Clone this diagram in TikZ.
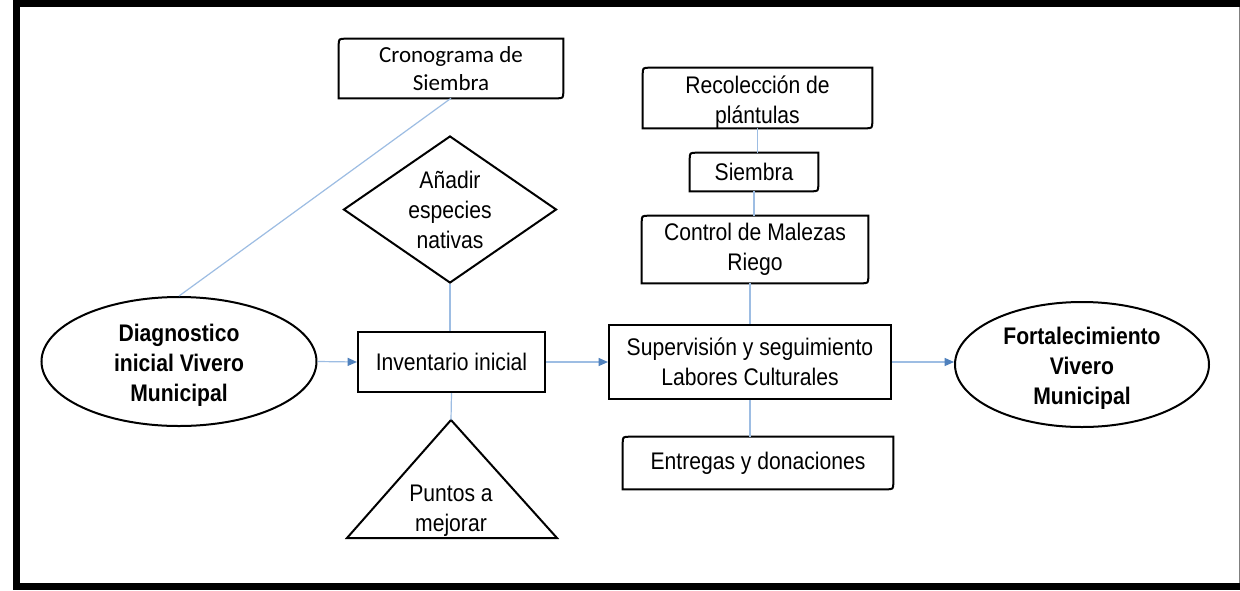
\documentclass[tikz,border=0pt]{standalone}
\usepackage{fontspec}
\newfontfamily\arialn[FakeStretch=0.88]{Liberation Sans}
\newfontfamily\calib{Carlito}
\usetikzlibrary{shapes.geometric,arrows.meta,calc}
\definecolor{lnblue}{HTML}{9DBDE3}
\definecolor{tipblue}{HTML}{4F81BD}
\tikzset{
  txt/.style={font=\arialn\fontsize{18}{22.5}\selectfont, align=center, inner sep=0pt},
  btxt/.style={font=\arialn\bfseries\fontsize{18}{22.5}\selectfont, align=center, inner sep=0pt},
  ctxt/.style={font=\calib\fontsize{17.25}{21}\selectfont, align=center, inner sep=0pt},
  outline/.style={draw=black, line width=1.5pt},
  sqbox/.style={rectangle, outline, line width=1.6pt},
  ell/.style={ellipse, outline, inner sep=0pt},
  conn/.style={draw=lnblue, line width=0.9pt},
  arr/.style={conn, -{Triangle[length=7pt,width=6pt,color=tipblue]}},
  frame/.style={fill=black, draw=none}
}
% box with rounded top-left and bottom-right corners (y axis points down)
\newcommand\rdbox[1]{%
  \draw[outline] (#1.south west) -- ($(#1.north west)+(0,7)$)
    .. controls (#1.north west) .. ($(#1.north west)+(7,0)$) -- (#1.north east)
    -- ($(#1.south east)+(0,-7)$)
    .. controls (#1.south east) .. ($(#1.south east)+(-7,0)$) -- cycle;}
\begin{document}
\begin{tikzpicture}[x=0.75pt, y=-0.75pt]
\useasboundingbox (0,0) rectangle (1240,590);
\fill[white] (0,0) rectangle (1240,590);
% frame
\fill[frame] (13,0) rectangle (1240,7);
\fill[frame] (13,0) rectangle (20,590);
\fill[frame] (13,583) rectangle (1240,590);
\draw[gray, line width=0.8pt] (1239.4,7) -- (1239.4,583);

% nodes
\node[ctxt, minimum width=168pt, minimum height=44.25pt] (cro) at (451,68.5) {Cronograma de\\Siembra};
\rdbox{cro}
\node[txt, diamond, outline, aspect=1.45, minimum width=159.75pt, minimum height=110.25pt] (dia) at (450,209.5) {A\~nadir\\especies\\nativas};
\node[ell, minimum width=206.25pt, minimum height=96.75pt] (diag) at (179,361.5) {};
\node[btxt] (diagT) at (179,365) {Diagnostico\\inicial Vivero\\Municipal};
\node[txt, sqbox, minimum width=140.25pt, minimum height=45pt] (inv) at (451.5,362) {Inventario inicial};
\coordinate (triTop) at (451,420);
\draw[outline] (triTop) -- (557,538) -- (347,538) -- cycle;
\node[txt] (tri) at (451,511) {Puntos a\\mejorar};
\node[txt, sqbox, minimum width=211.5pt, minimum height=55.5pt] (sup) at (750,362) {Supervisión y seguimiento\\Labores Culturales};
\node[txt, minimum width=202.5pt, minimum height=39pt] (ent) at (758,463) {Entregas y donaciones};
\rdbox{ent}
\node[minimum width=171.75pt, minimum height=45pt, inner sep=0pt] (rec) at (757.5,98) {};
\rdbox{rec}
\node[txt] (recT) at (757.5,102) {Recolección de\\plántulas};
\node[txt, minimum width=96pt, minimum height=28.5pt] (sie) at (754,172) {Siembra};
\rdbox{sie}
\node[txt, minimum width=169.5pt, minimum height=50.25pt] (ctl) at (755,249.5) {Control de Malezas\\Riego};
\rdbox{ctl}
\node[ell, minimum width=190.5pt, minimum height=93.75pt] (fort) at (1082,364.5) {};
\node[btxt] (fortT) at (1082,368) {Fortalecimiento\\Vivero\\Municipal};

% connectors
\draw[conn] (cro.south) -- (diag.north);
\draw[conn] (dia.south) -- (dia.south |- inv.north);
\draw[conn] (inv.south) -- (triTop);
\draw[arr] (diag.east) -- (inv.west);
\draw[arr] (inv.east) -- (sup.west);
\draw[arr] (sup.east) -- (sup.east -| fort.west);
\draw[conn] (rec.south) -- (rec.south |- sie.north);
\draw[conn] (sie.south) -- (sie.south |- ctl.north);
\draw[conn] ([xshift=-3.75pt]ctl.south) -- ([xshift=-3.75pt]ctl.south |- sup.north);
\draw[conn] (sup.south) -- (sup.south |- ent.north);
\end{tikzpicture}
\end{document}
